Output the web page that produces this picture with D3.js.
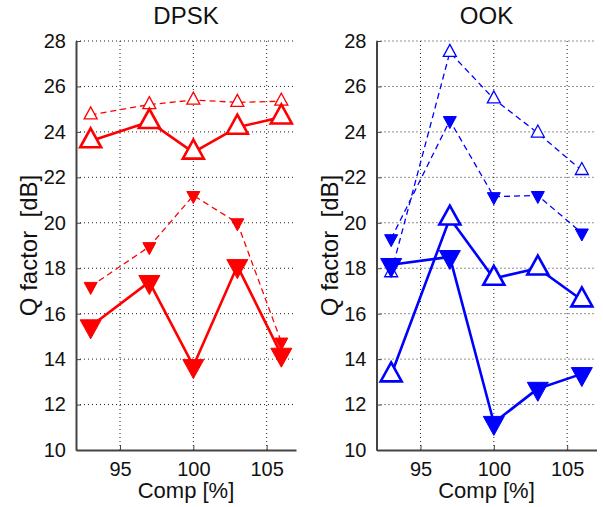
<!DOCTYPE html>
<html>
<head>
<meta charset="utf-8">
<script src="https://cdn.jsdelivr.net/npm/d3@7"></script>
<style>
  html, body { margin: 0; padding: 0; background: #fff; }
  svg { display: block; font-family: "Liberation Sans", Arial, Helvetica, sans-serif; }
</style>
</head>
<body>
<svg id="chart" width="603" height="507"></svg>
<script>
// Dispersion compensation (%) and measured Q factor (dB)
const comp = [93, 97, 100, 103, 106];

const dpskUpDashed   = [24.75, 25.2, 25.4, 25.3, 25.35];
const dpskUpSolid    = [23.6, 24.45, 23.1, 24.2, 24.65];
const dpskDownDashed = [17.2, 18.95, 21.2, 20.0, 14.75];
const dpskDownSolid  = [15.45, 17.4, 13.7, 18.1, 14.2];

const ookUpDashed    = [17.8, 27.5, 25.45, 23.95, 22.3];
const ookDownDashed  = [19.3, 24.5, 21.15, 21.2, 19.55];
const ookUpSolid     = [13.3, 20.2, 17.55, 18.0, 16.6];
const ookDownSolid   = [18.15, 18.5, 11.2, 12.7, 13.35];

const xTicks = [95, 100, 105];
const yTicks = [10, 12, 14, 16, 18, 20, 22, 24, 26, 28];
const xDomain = [92, 107];
const yDomain = [10, 28];

const panels = [
  { title: "DPSK", color: "#ff0000", left: 76, right: 296,
    series: [
      { values: dpskUpDashed,   shape: "up",   big: false },
      { values: dpskDownDashed, shape: "down", big: false },
      { values: dpskUpSolid,    shape: "up",   big: true },
      { values: dpskDownSolid,  shape: "down", big: true }
    ] },
  { title: "OOK", color: "#0000ff", left: 376.5, right: 596.5,
    series: [
      { values: ookUpDashed,   shape: "up",   big: false },
      { values: ookDownDashed, shape: "down", big: false },
      { values: ookUpSolid,    shape: "up",   big: true },
      { values: ookDownSolid,  shape: "down", big: true }
    ] }
];

const plotTop = 41, plotBottom = 450;
const svg = d3.select("#chart");

// Triangle centred on its centroid; "up" points up, "down" points down
function triangle(shape, w, h) {
  const a = 2 * h / 3, b = h / 3;
  if (shape === "up") return `M0,${-a}L${w / 2},${b}L${-w / 2},${b}Z`;
  return `M0,${a}L${w / 2},${-b}L${-w / 2},${-b}Z`;
}

panels.forEach(p => {
  const x = d3.scaleLinear().domain(xDomain).range([p.left, p.right]);
  const y = d3.scaleLinear().domain(yDomain).range([plotBottom, plotTop]);
  const g = svg.append("g");

  // dotted grid
  g.append("g").selectAll("line").data(yTicks.filter(v => v > 10)).join("line")
    .attr("x1", p.left).attr("x2", p.right)
    .attr("y1", d => y(d)).attr("y2", d => y(d))
    .attr("stroke", "#222").attr("stroke-width", 1).attr("stroke-dasharray", "1,3");
  g.append("g").selectAll("line").data(xTicks).join("line")
    .attr("x1", d => x(d)).attr("x2", d => x(d))
    .attr("y1", plotTop).attr("y2", plotBottom)
    .attr("stroke", "#222").attr("stroke-width", 1).attr("stroke-dasharray", "1,3");

  // axes with inward ticks
  const yAxis = d3.axisLeft(y).tickValues(yTicks).tickSize(-5).tickPadding(10).tickSizeOuter(0);
  const xAxis = d3.axisBottom(x).tickValues(xTicks).tickSize(-5).tickPadding(12).tickSizeOuter(0);
  const ya = g.append("g").attr("transform", `translate(${p.left},0)`).call(yAxis);
  const xa = g.append("g").attr("transform", `translate(0,${plotBottom})`).call(xAxis);
  [ya, xa].forEach(a => {
    a.select(".domain").attr("stroke", "#444").attr("stroke-width", 2);
    a.selectAll(".tick line").attr("stroke", "#444").attr("stroke-width", 1);
    a.selectAll(".tick text").attr("fill", "#111").attr("font-size", 20)
      .attr("font-family", "Liberation Sans, Arial, sans-serif");
  });

  // series lines and markers
  const line = d3.line().x((d, i) => x(comp[i])).y(d => y(d));
  p.series.forEach(s => {
    g.append("path").datum(s.values)
      .attr("d", line).attr("fill", "none").attr("stroke", p.color)
      .attr("stroke-width", s.big ? 2.6 : 1.3)
      .attr("stroke-dasharray", s.big ? null : "6,4")
      .attr("stroke-linejoin", "round");
  });
  p.series.forEach(s => {
    const w = s.big ? 21 : 13, h = s.big ? 19 : 12;
    g.append("g").selectAll("path").data(s.values).join("path")
      .attr("transform", (d, i) => `translate(${x(comp[i])},${y(d)})`)
      .attr("d", triangle(s.shape, w, h))
      .attr("fill", s.shape === "down" ? p.color : "#fff")
      .attr("stroke", p.color)
      .attr("stroke-width", s.shape === "down" ? 1 : (s.big ? 2.6 : 1.3))
      .attr("stroke-linejoin", "miter");
  });

  const cx = (p.left + p.right) / 2;
  g.append("text").attr("x", cx).attr("y", 24).attr("text-anchor", "middle")
    .attr("font-size", 24).attr("fill", "#111").text(p.title);
  g.append("text").attr("x", cx).attr("y", 498).attr("text-anchor", "middle")
    .attr("font-size", 22).attr("fill", "#111").text("Comp [%]");
  g.append("text")
    .attr("transform", `translate(${p.left - 39},${(plotTop + plotBottom) / 2}) rotate(-90)`)
    .attr("text-anchor", "middle").attr("font-size", 24).attr("fill", "#111")
    .attr("xml:space", "preserve").style("white-space", "pre")
    .text("Q factor  [dB]");
});
</script>
</body>
</html>
